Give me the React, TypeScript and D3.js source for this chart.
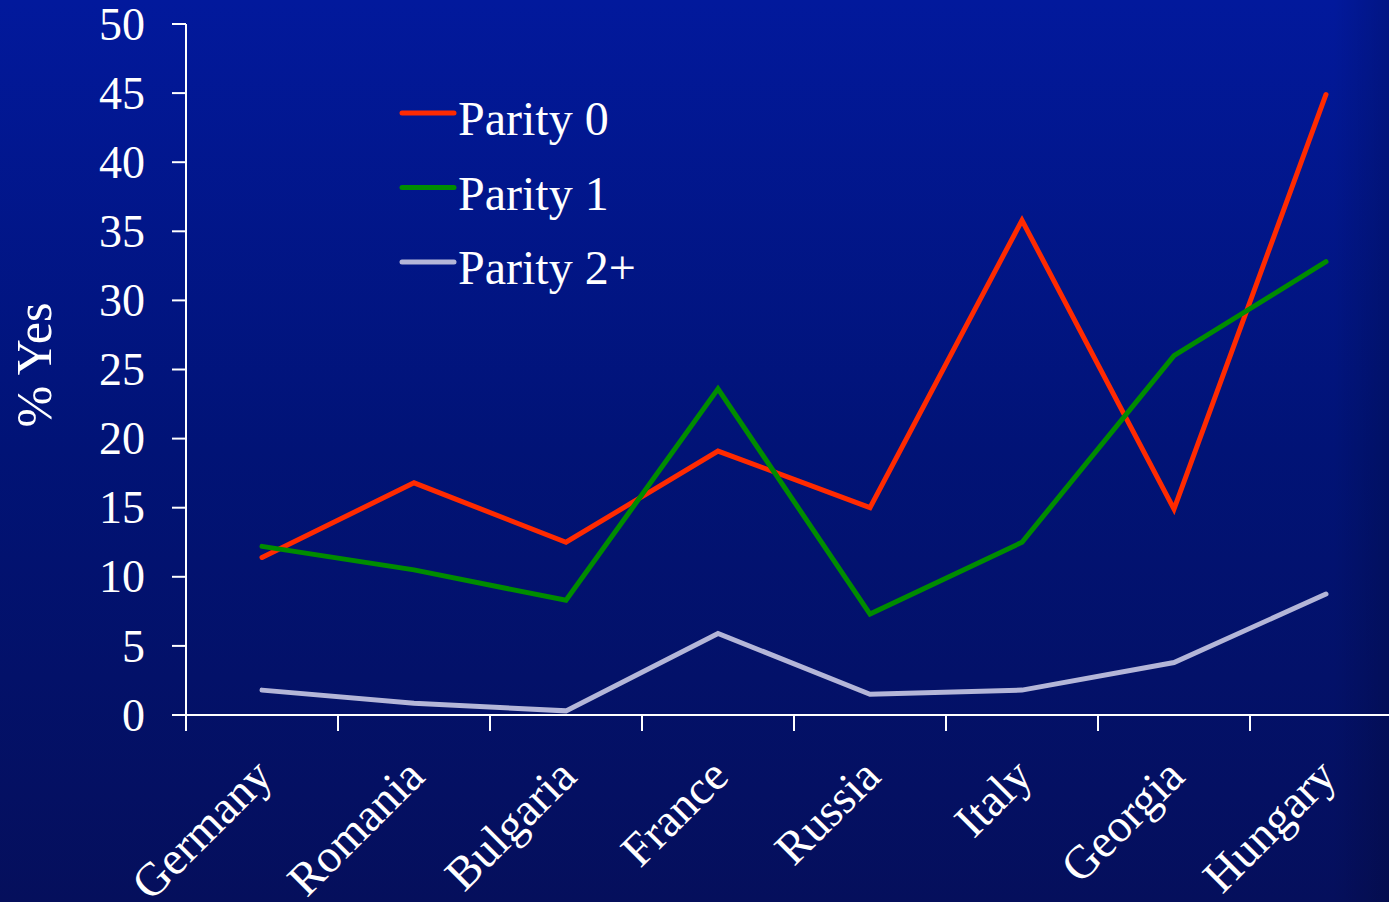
import React from "react";
import * as d3 from "d3";

const countries = ["Germany", "Romania", "Bulgaria", "France", "Russia", "Italy", "Georgia", "Hungary"];
const parity0 = [11.4, 16.8, 12.5, 19.1, 15.0, 35.8, 14.9, 44.9];
const parity1 = [12.2, 10.5, 8.3, 23.6, 7.3, 12.5, 26.0, 32.8];
const parity2 = [1.8, 0.85, 0.3, 5.9, 1.5, 1.8, 3.8, 8.75];
const yTicks = [0, 5, 10, 15, 20, 25, 30, 35, 40, 45, 50];
const seriesNames = ["Parity 0", "Parity 1", "Parity 2+"];
const seriesColors = ["#ff2a00", "#008c00", "#b4b6d8"];

const W = 1389;
const H = 902;
const FONT = "'Liberation Serif', 'Times New Roman', serif";

export default function App() {
  const x = d3.scaleBand<string>().domain(countries).range([186, 1402]);
  const y = d3.scaleLinear().domain([0, 50]).range([715, 24]);
  const line = d3
    .line<number>()
    .x((_, i) => (x(countries[i]) as number) + x.bandwidth() / 2)
    .y((d) => y(d));
  const series = [parity0, parity1, parity2];
  const boundaries = countries.map((c) => x(c) as number);

  return (
    <svg
      width={W}
      height={H}
      style={{ position: "absolute", left: 0, top: 0, display: "block" }}
      fontFamily={FONT}
    >
      <defs>
        <linearGradient id="bgv" x1="0" y1="0" x2="0" y2="1">
          <stop offset="0" stopColor="#02199c" />
          <stop offset="0.5" stopColor="#011376" />
          <stop offset="1" stopColor="#050f5c" />
        </linearGradient>
        <linearGradient id="bgh" x1="0" y1="0" x2="1" y2="0">
          <stop offset="0" stopColor="#000000" stopOpacity="0" />
          <stop offset="0.96" stopColor="#000000" stopOpacity="0" />
          <stop offset="1" stopColor="#000000" stopOpacity="0.15" />
        </linearGradient>
      </defs>
      <rect x={0} y={0} width={W} height={H} fill="url(#bgv)" />
      <rect x={0} y={0} width={W} height={H} fill="url(#bgh)" />

      {/* y axis */}
      <line x1={186} x2={186} y1={y(50)} y2={y(0)} stroke="#ffffff" strokeWidth={2} />
      {yTicks.map((t) => (
        <g key={t}>
          <line x1={172} x2={186} y1={y(t)} y2={y(t)} stroke="#ffffff" strokeWidth={2} />
          <text
            x={145}
            y={y(t)}
            dy="0.34em"
            textAnchor="end"
            fill="#ffffff"
            fontSize={46}
          >
            {t}
          </text>
        </g>
      ))}
      <text
        transform={`translate(51,365) rotate(-90)`}
        textAnchor="middle"
        fill="#ffffff"
        fontSize={50}
      >
        % Yes
      </text>

      {/* x axis */}
      <line x1={172} x2={W} y1={y(0)} y2={y(0)} stroke="#ffffff" strokeWidth={2} />
      {boundaries.map((b, i) => (
        <line key={i} x1={b} x2={b} y1={y(0)} y2={y(0) + 16} stroke="#ffffff" strokeWidth={2} />
      ))}
      {countries.map((c) => {
        const cx = (x(c) as number) + x.bandwidth() / 2;
        return (
          <text
            key={c}
            transform={`translate(${cx + 1},${767}) rotate(-45)`}
            textAnchor="end"
            fill="#ffffff"
            fontSize={47}
            dy="0.35em"
          >
            {c}
          </text>
        );
      })}

      {/* lines */}
      {series.map((s, i) => (
        <path
          key={i}
          d={line(s) as string}
          fill="none"
          stroke={seriesColors[i]}
          strokeWidth={5}
          strokeLinecap="round"
          strokeLinejoin="miter"
        />
      ))}

      {/* legend */}
      {seriesNames.map((n, i) => (
        <g key={n} transform={`translate(0,${113 + i * 74.5})`}>
          <line x1={402} x2={454} y1={0} y2={0} stroke={seriesColors[i]} strokeWidth={5} strokeLinecap="round" />
          <text x={458} y={22} fill="#ffffff" fontSize={48}>
            {n}
          </text>
        </g>
      ))}
    </svg>
  );
}
